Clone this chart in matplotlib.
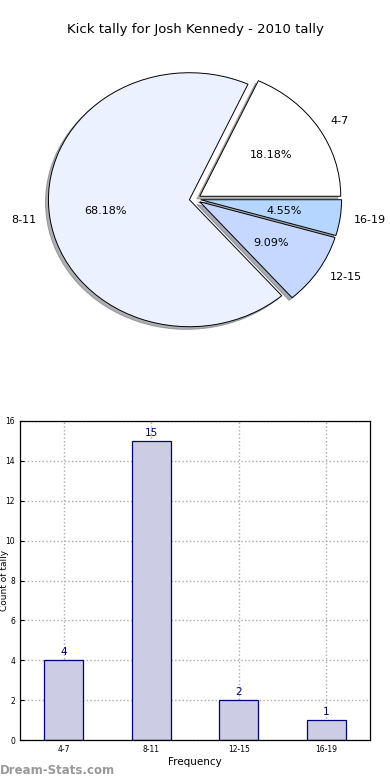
import matplotlib
matplotlib.use("Agg")
import matplotlib.pyplot as plt

categories = ["4-7", "8-11", "12-15", "16-19"]
counts = [4, 15, 2, 1]
pie_colors = ["#FFFFFF", "#EBF1FF", "#C6D8FF", "#B4D6FF"]
title = "Kick tally for Josh Kennedy - 2010 tally"

W, H = 390, 780
fig = plt.figure(figsize=(W / 100, H / 100), dpi=100)

def px_axes(left, top, right, bottom):
    return fig.add_axes([left / W, 1 - bottom / H, (right - left) / W, (bottom - top) / H])

# Pie
cx, cy, rx, ry = 195, 199, 141, 127
L = 1.3
axp = px_axes(cx - rx * L, cy - ry * L, cx + rx * L, cy + ry * L)
wedges, texts, autotexts = axp.pie(
    counts, labels=categories, colors=pie_colors, explode=[0.04] * 4,
    autopct="%.2f%%", shadow={"ox": -0.015, "oy": -0.015, "shade": 0.6},
    startangle=0, counterclock=True,
    wedgeprops=dict(edgecolor="black", linewidth=0.7),
    textprops=dict(fontsize=8))
axp.set_aspect("auto")
axp.set_xlim(-L, L)
axp.set_ylim(-L, L)
axp.axis("off")

fig.text(195 / W, 1 - 30 / H, title, ha="center", va="center", fontsize=9.5)

# Bar
axb = px_axes(20, 421, 370, 740)
x = list(range(len(categories)))
bars = axb.bar(x, counts, width=0.45, color="#CCCCE5", edgecolor="#000080", linewidth=0.9, zorder=2)
for xi, v in zip(x, counts):
    axb.text(xi, v + 0.15, str(v), ha="center", va="bottom", fontsize=7.5, color="#000080", zorder=3)
axb.set_xlim(-0.5, 3.5)
axb.set_ylim(0, 16)
axb.set_xticks(x)
axb.set_xticklabels(categories, fontsize=5.5)
axb.set_yticks(range(0, 17, 2))
axb.tick_params(axis="y", labelsize=5.5, direction="in", length=3)
axb.tick_params(axis="x", direction="in", length=3)
axb.grid(True, linestyle=":", color="#AAAAAA", linewidth=1, zorder=0)
axb.set_axisbelow(True)
axb.set_xlabel("Frequency", fontsize=7.5, labelpad=2)
for s in axb.spines.values():
    s.set_linewidth(0.9)

fig.text(4.5 / W, 1 - 580 / H, "Count of tally", rotation=90, ha="center", va="center",
         fontsize=6.5)

fig.text(0 / W, 1 - 771 / H, "Dream-Stats.com", ha="left", va="center",
         fontsize=8.5, color="#999999", fontweight="bold")

fig.savefig("out.png", dpi=100)
